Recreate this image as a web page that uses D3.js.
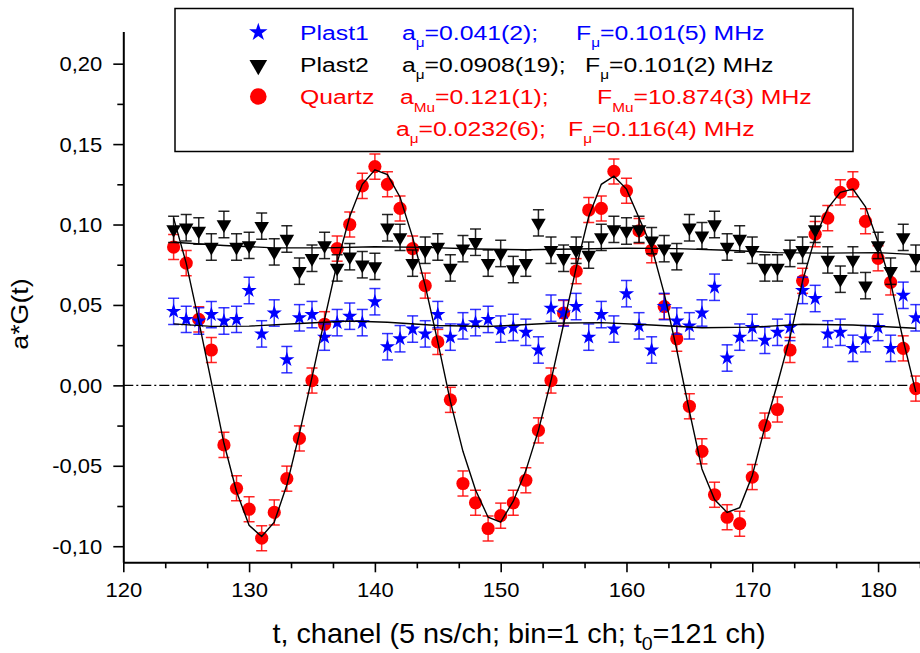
<!DOCTYPE html>
<html>
<head>
<meta charset="utf-8">
<script src="https://d3js.org/d3.v7.min.js"></script>
<style>
  body { margin: 0; background: #ffffff; }
  svg { display: block; }
</style>
</head>
<body>
<div id="chart"></div>
<script>
// channels (x) shared by all three series
var channels = [124,125,126,127,128,129,130,131,132,133,134,135,136,137,138,139,140,141,142,143,
                144,145,146,147,148,149,150,151,152,153,154,155,156,157,158,159,160,161,162,163,
                164,165,166,167,168,169,170,171,172,173,174,175,176,177,178,179,180,181,182,183];

// Plast1 (blue stars)
var plast1 = [0.046,0.041,0.040,0.044,0.040,0.041,0.059,0.032,0.045,0.016,0.042,0.044,0.030,0.039,0.043,0.039,0.052,0.024,0.029,0.035,
              0.032,0.044,0.030,0.037,0.039,0.041,0.035,0.036,0.033,0.022,0.048,0.045,0.049,0.030,0.044,0.035,0.057,0.037,0.022,0.049,
              0.040,0.037,0.045,0.061,0.017,0.030,0.036,0.028,0.033,0.036,0.059,0.054,0.032,0.033,0.023,0.029,0.036,0.023,0.056,0.042];
var plast1Err = 0.0082;

// Plast2 (black triangles)
var plast2 = [0.097,0.098,0.096,0.086,0.100,0.086,0.087,0.099,0.083,0.091,0.071,0.079,0.087,0.073,0.080,0.075,0.074,0.098,0.092,0.076,
              0.084,0.086,0.073,0.085,0.089,0.076,0.082,0.072,0.076,0.101,0.084,0.079,0.084,0.081,0.092,0.097,0.096,0.097,0.090,0.085,
              0.080,0.098,0.093,0.100,0.086,0.091,0.084,0.073,0.073,0.082,0.084,0.097,0.078,0.066,0.078,0.062,0.087,0.071,0.092,0.079];
var plast2Err = 0.0082;

// Quartz (red circles)
var quartz = [0.086,0.076,0.041,0.022,-0.037,-0.064,-0.077,-0.095,-0.079,-0.058,-0.033,0.003,0.038,0.085,0.100,0.124,0.136,0.125,0.110,0.085,
              0.062,0.027,-0.009,-0.061,-0.073,-0.089,-0.081,-0.073,-0.059,-0.028,0.003,0.045,0.071,0.109,0.110,0.133,0.121,0.096,0.084,0.049,
              0.029,-0.013,-0.041,-0.068,-0.082,-0.086,-0.057,-0.025,-0.015,0.022,0.065,0.094,0.104,0.120,0.125,0.102,0.079,0.064,0.023,-0.002];
var quartzErr = 0.0078;

// fit curves
var quartzFit = [0.104,0.076,0.040,0.002,-0.036,-0.066,-0.087,-0.094,-0.085,-0.062,-0.030,0.005,0.041,0.076,0.105,0.125,0.134,0.131,0.117,0.092,
                 0.062,0.027,-0.010,-0.041,-0.065,-0.082,-0.085,-0.072,-0.053,-0.028,0.003,0.038,0.073,0.105,0.125,0.130,0.122,0.104,0.086,0.057,
                 0.022,-0.016,-0.052,-0.071,-0.079,-0.076,-0.056,-0.026,0.001,0.030,0.065,0.092,0.110,0.120,0.122,0.111,0.089,0.064,0.028,-0.004];
var plast1FitX = [124,127,130,134,138,141,145,149,154,158,162,166,170,174,178,183];
var plast1FitY = [0.0382,0.0367,0.0368,0.0385,0.0400,0.0392,0.0372,0.0366,0.0386,0.0390,0.0375,0.0358,0.0362,0.0380,0.0375,0.0355];
var plast2FitX = [124,128,132,136,140,144,148,152,156,160,164,168,172,176,180,183];
var plast2FitY = [0.0890,0.0870,0.0855,0.0855,0.0862,0.0858,0.0848,0.0843,0.0848,0.0853,0.0850,0.0840,0.0825,0.0822,0.0825,0.0813];

// axis ticks
var xTickValues = [120,130,140,150,160,170,180];
var xTickLabels = ['120','130','140','150','160','170','180'];
var xMinorTicks = [123.333,126.667,133.333,136.667,143.333,146.667,153.333,156.667,163.333,166.667,173.333,176.667,183.333];
var yTickValues = [-0.10,-0.05,0,0.05,0.10,0.15,0.20];
var yTickLabels = ['-0,10','-0,05','0,00','0,05','0,10','0,15','0,20'];
var yMinorTicks = [-0.075,-0.025,0.025,0.075,0.125,0.175];

(function(){
  var W = 920, H = 653;
  var FONT = "'Liberation Sans', Arial, Helvetica, sans-serif";
  var plotL = 123.3, plotR = 920, plotT = 31.5, plotB = 562.3;

  var x = d3.scaleLinear().domain([120, 183.333]).range([plotL, plotR]);
  var y = d3.scaleLinear().domain([-0.11, 0.22]).range([plotB, plotT]);

  var svg = d3.select('#chart').append('svg')
    .attr('width', W).attr('height', H)
    .style('font-family', FONT);

  svg.append('defs').append('clipPath').attr('id', 'plot-clip')
    .append('rect')
    .attr('x', plotL).attr('y', plotT - 10)
    .attr('width', plotR - plotL).attr('height', plotB - plotT + 10);

  // zero line (dash-dot)
  svg.append('line')
    .attr('x1', x(120)).attr('x2', x(183.333))
    .attr('y1', y(0)).attr('y2', y(0))
    .attr('stroke', '#000').attr('stroke-width', 1.2)
    .attr('stroke-dasharray', '10,3,2,3');

  var plot = svg.append('g').attr('clip-path', 'url(#plot-clip)');

  function drawSeries(vals, err, color, barColor, shape){
    var pts = channels.map(function(c, i){ return { c: c, v: vals[i] }; });
    var g = plot.append('g');
    var capW = 5.5;
    g.selectAll('.eb').data(pts).enter().append('line')
      .attr('x1', function(d){ return x(d.c); }).attr('x2', function(d){ return x(d.c); })
      .attr('y1', function(d){ return y(d.v - err); }).attr('y2', function(d){ return y(d.v + err); })
      .attr('stroke', barColor).attr('stroke-width', 1.5);
    [1, -1].forEach(function(s){
      g.selectAll('.cap' + s).data(pts).enter().append('line')
        .attr('x1', function(d){ return x(d.c) - capW; }).attr('x2', function(d){ return x(d.c) + capW; })
        .attr('y1', function(d){ return y(d.v + s * err); }).attr('y2', function(d){ return y(d.v + s * err); })
        .attr('stroke', barColor).attr('stroke-width', 1.5);
    });
    if (shape === 'circle'){
      g.selectAll('.mk').data(pts).enter().append('circle')
        .attr('cx', function(d){ return x(d.c); }).attr('cy', function(d){ return y(d.v); })
        .attr('r', 6.6).attr('fill', color);
    } else {
      var sym = shape === 'star' ? d3.symbol(d3.symbolStar, 72) : d3.symbol(d3.symbolTriangle, 92);
      var rot = shape === 'star' ? '' : ' rotate(180)';
      g.selectAll('.mk').data(pts).enter().append('path')
        .attr('d', sym)
        .attr('transform', function(d){ return 'translate(' + x(d.c) + ',' + y(d.v) + ')' + rot; })
        .attr('fill', color);
    }
  }

  drawSeries(quartz, quartzErr, '#ff0000', 'rgba(255,0,0,0.85)', 'circle');
  drawSeries(plast2, plast2Err, '#000000', 'rgba(0,0,0,0.85)', 'triangle');
  drawSeries(plast1, plast1Err, '#0000ff', 'rgba(0,0,255,0.8)', 'star');

  // fit lines
  var line = d3.line().x(function(d){ return x(d[0]); }).y(function(d){ return y(d[1]); });
  plot.append('path')
    .attr('d', line(channels.map(function(c, i){ return [c, quartzFit[i]]; })))
    .attr('fill', 'none').attr('stroke', '#000').attr('stroke-width', 1.4);
  plot.append('path')
    .attr('d', line(plast1FitX.map(function(c, i){ return [c, plast1FitY[i]]; })))
    .attr('fill', 'none').attr('stroke', '#000').attr('stroke-width', 1.4);
  plot.append('path')
    .attr('d', line(plast2FitX.map(function(c, i){ return [c, plast2FitY[i]]; })))
    .attr('fill', 'none').attr('stroke', '#000').attr('stroke-width', 1.4);

  // minor ticks
  var xMin = svg.append('g').attr('transform', 'translate(0,' + plotB + ')')
    .call(d3.axisBottom(x).tickValues(xMinorTicks).tickFormat('').tickSize(6).tickSizeOuter(0));
  xMin.select('.domain').remove();
  xMin.selectAll('line').attr('stroke', '#000').attr('stroke-width', 1.6);
  var yMin = svg.append('g').attr('transform', 'translate(' + plotL + ',0)')
    .call(d3.axisLeft(y).tickValues(yMinorTicks).tickFormat('').tickSize(6).tickSizeOuter(0));
  yMin.select('.domain').remove();
  yMin.selectAll('line').attr('stroke', '#000').attr('stroke-width', 1.6);

  // major axes
  var sxTick = 1.1;
  var xAx = svg.append('g').attr('transform', 'translate(0,' + plotB + ')')
    .call(d3.axisBottom(x).tickValues(xTickValues).tickFormat(function(d, i){ return xTickLabels[i]; }).tickSize(10).tickSizeOuter(0));
  xAx.attr('font-family', FONT).attr('font-size', 20);
  xAx.select('.domain').attr('stroke', '#000').attr('stroke-width', 2);
  xAx.selectAll('line').attr('stroke', '#000').attr('stroke-width', 1.6);
  xAx.selectAll('text').attr('fill', '#000').attr('y', 35).attr('dy', 0)
    .attr('transform', 'scale(' + sxTick + ',1)');

  var yAx = svg.append('g').attr('transform', 'translate(' + plotL + ',0)')
    .call(d3.axisLeft(y).tickValues(yTickValues).tickFormat(function(d, i){ return yTickLabels[i]; }).tickSize(10).tickSizeOuter(0));
  yAx.attr('font-family', FONT).attr('font-size', 20);
  yAx.select('.domain').attr('stroke', '#000').attr('stroke-width', 2);
  yAx.selectAll('line').attr('stroke', '#000').attr('stroke-width', 1.6);
  yAx.selectAll('text').attr('fill', '#000').attr('x', -21 / sxTick).attr('dy', '0.35em')
    .attr('transform', 'scale(' + sxTick + ',1)');

  // axis titles
  var xt = svg.append('text')
    .attr('transform', 'translate(519,643.3) scale(1.03,1)')
    .attr('text-anchor', 'middle').style('font-size', '28px').attr('fill', '#000');
  xt.append('tspan').text('t, chanel (5 ns/ch; bin=1 ch; t');
  xt.append('tspan').attr('dy', 7).style('font-size', '19px').text('0');
  xt.append('tspan').attr('dy', -7).text('=121 ch)');

  svg.append('text')
    .attr('transform', 'translate(28,314) rotate(-90) scale(1.14,1)')
    .attr('text-anchor', 'middle').style('font-size', '23.5px').attr('fill', '#000')
    .text('a*G(t)');

  // legend
  var legend = svg.append('g');
  legend.append('rect')
    .attr('x', 175).attr('y', 8.5).attr('width', 678).attr('height', 143)
    .attr('fill', '#fff').attr('stroke', '#000').attr('stroke-width', 1.5);

  function legendText(x0, yb, color, parts, sub){
    var t = legend.append('text')
      .attr('transform', 'translate(' + x0 + ',' + yb + ') scale(1.18,1)')
      .attr('fill', color).style('font-size', '21px');
    parts.forEach(function(p, i){
      var ts = t.append('tspan').text(p);
      if (i % 2 === 1) ts.attr('dy', sub).style('font-size', '13px');
      else if (i > 0) ts.attr('dy', -sub);
    });
  }

  legend.append('path').attr('d', d3.symbol(d3.symbolStar, 105))
    .attr('transform', 'translate(258.3,32.3)').attr('fill', '#0000ff');
  legend.append('path').attr('d', d3.symbol(d3.symbolTriangle, 135))
    .attr('transform', 'translate(258.3,65) rotate(180)').attr('fill', '#000');
  legend.append('circle').attr('cx', 258.3).attr('cy', 96.5).attr('r', 8.3).attr('fill', '#ff0000');

  legendText(300, 40, '#0000ff', ['Plast1'], 0);
  legendText(402, 40, '#0000ff', ['a', '\u03bc', '=0.041(2);'], 7);
  legendText(576, 40, '#0000ff', ['F', '\u03bc', '=0.101(5) MHz'], 7);

  legendText(300, 71.7, '#000', ['Plast2'], 0);
  legendText(402, 71.7, '#000', ['a', '\u03bc', '=0.0908(19);'], 7);
  legendText(585, 71.7, '#000', ['F', '\u03bc', '=0.101(2) MHz'], 7);

  legendText(300, 104, '#ff0000', ['Quartz'], 0);
  legendText(400, 104, '#ff0000', ['a', 'Mu', '=0.121(1);'], 8);
  legendText(597, 104, '#ff0000', ['F', 'Mu', '=10.874(3) MHz'], 8);

  legendText(396, 135.5, '#ff0000', ['a', '\u03bc', '=0.0232(6);'], 7);
  legendText(568, 135.5, '#ff0000', ['F', '\u03bc', '=0.116(4) MHz'], 7);
})();
</script>
</body>
</html>
